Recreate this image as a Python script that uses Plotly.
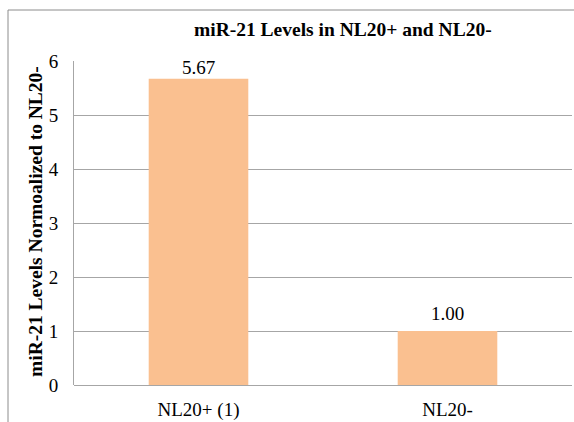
import plotly.graph_objects as go

categories = ["NL20+ (1)", "NL20-"]
values = [5.67, 1.00]
value_labels = ["5.67", "1.00"]
y_ticks = [0, 1, 2, 3, 4, 5, 6]

SERIF = "Liberation Serif, Times New Roman, serif"
BAR_COLOR = "#FAC090"
GRID = "#A6A6A6"

fig = go.Figure()
fig.add_trace(go.Bar(
    x=categories,
    y=values,
    width=0.4,
    marker=dict(color=BAR_COLOR, line=dict(width=0)),
    hoverinfo="skip",
))

# value labels above each bar (the tall one sits tight under the frame top)
label_shift = [-1, 5]
for cat, val, txt, dy in zip(categories, values, value_labels, label_shift):
    fig.add_annotation(
        x=cat, y=val, text=txt, showarrow=False,
        xref="x", yref="y", yanchor="bottom", yshift=dy,
        font=dict(family=SERIF, size=19, color="#000000"),
    )

# plot area in pixels: left 74, right 572, top 61, bottom 385
L, R, T, B, W, H = 74, 2, 61, 37, 574, 422
pw, ph = W - L - R, H - T - B


def px_x(px):
    return (px - L) / pw


def px_y(py):
    return (H - B - py) / ph


# outer frame: top and left edges
fig.add_shape(type="line", xref="paper", yref="paper",
              x0=px_x(8), x1=px_x(576), y0=px_y(10), y1=px_y(10),
              line=dict(color="#8C8C8C", width=1))
fig.add_shape(type="line", xref="paper", yref="paper",
              x0=px_x(8), x1=px_x(8), y0=px_y(10), y1=px_y(424),
              line=dict(color="#8C8C8C", width=1))

# chart title
fig.add_annotation(
    xref="paper", yref="paper", x=px_x(343), y=px_y(29),
    text="<b>miR-21 Levels in NL20+ and NL20-</b>", showarrow=False,
    xanchor="center", yanchor="middle",
    font=dict(family=SERIF, size=19.5, color="#000000"),
)

# y-axis title
fig.add_annotation(
    xref="paper", yref="paper", x=px_x(35), y=px_y(222),
    text="<b>miR-21 Levels Normoalized to NL20-</b>", showarrow=False,
    textangle=-90, xanchor="center", yanchor="middle",
    font=dict(family=SERIF, size=19.5, color="#000000"),
)

fig.update_layout(
    width=W, height=H,
    margin=dict(l=L, r=R, t=T, b=B, pad=0),
    paper_bgcolor="white", plot_bgcolor="white",
    showlegend=False,
    bargap=0.6,
    xaxis=dict(
        showgrid=False, zeroline=False, showline=False,
        ticks="", ticklabelstandoff=11,
        tickfont=dict(family=SERIF, size=19, color="#000000"),
    ),
    yaxis=dict(
        range=[0, 6], tickvals=y_ticks,
        showgrid=True, gridcolor=GRID, gridwidth=1,
        zeroline=True, zerolinecolor=GRID, zerolinewidth=1,
        showline=True, linecolor=GRID, linewidth=1,
        ticks="", ticklabelstandoff=11,
        tickfont=dict(family=SERIF, size=19, color="#000000"),
    ),
)

fig.write_html("out.html")
